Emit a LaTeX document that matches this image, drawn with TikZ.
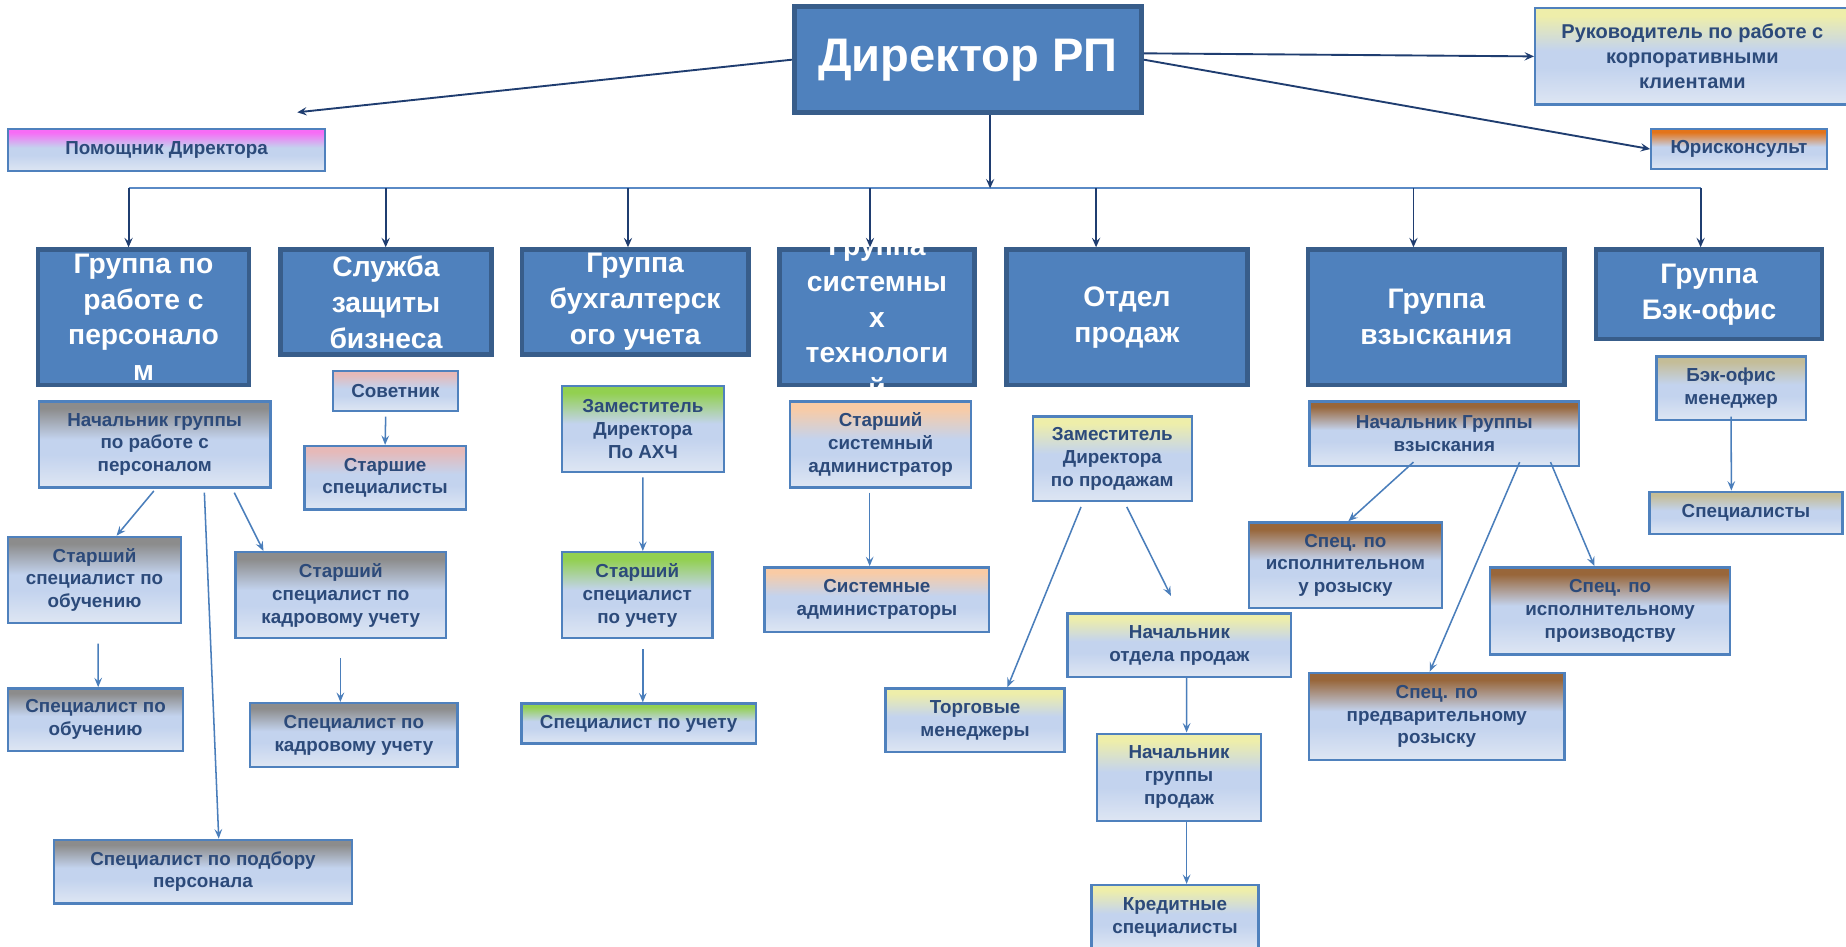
\documentclass[tikz,border=0pt]{standalone}
\usepackage{fontspec}
\setmainfont{Liberation Sans}
\usetikzlibrary{arrows.meta}

\definecolor{grpfill}{HTML}{4F81BD}
\definecolor{grpedge}{HTML}{385D8A}
\definecolor{boxedge}{HTML}{4F81BD}
\definecolor{boxmid}{HTML}{C3D3EE}
\definecolor{boxlo}{HTML}{DEE6F3}
\definecolor{boxtext}{HTML}{2C4A7A}
\definecolor{topline}{HTML}{1F3D70}
\definecolor{lowline}{HTML}{4A7EBB}
\definecolor{busline}{HTML}{5A8AC6}
\definecolor{hdr}{HTML}{8C8C8C}
\definecolor{magentahdr}{HTML}{F76CF6}
\definecolor{orangehdr}{HTML}{E3741A}
\definecolor{yellowhdr}{HTML}{EEEEAA}
\definecolor{grayhdr}{HTML}{8C8C8C}
\definecolor{pinkhdr}{HTML}{E6B9B8}
\definecolor{greenhdr}{HTML}{92D050}
\definecolor{peachhdr}{HTML}{F9CBA5}
\definecolor{brownhdr}{HTML}{98663A}
\definecolor{khakihdr}{HTML}{C4BD97}

\pgfdeclareverticalshading[hdr]{boxshade}{100bp}{color(0bp)=(boxlo); color(25bp)=(boxlo); color(44bp)=(boxmid); color(53bp)=(boxmid); color(71bp)=(hdr); color(100bp)=(hdr)}

\tikzset{
    grp/.style={draw=grpedge, line width=4pt, fill=grpfill, inner sep=0pt},
    grptext/.style={text=white, font=\fontsize{24}{30.5}\selectfont\bfseries, align=center, inner sep=0pt},
    sub/.style={draw=boxedge, line width=2pt, shade, shading=boxshade, /utils/exec={\colorlet{hdr}{#1}},
        inner sep=0pt, text=boxtext, font=\fontsize{16}{19.4}\selectfont\bfseries, align=center},
    topar/.style={draw=topline, line width=1.6pt, -{Stealth[length=8pt, width=7pt, inset=3pt]}},
    lowar/.style={draw=lowline, line width=1.3pt, -{Stealth[length=8pt, width=6.5pt, inset=3pt]}}
}

\begin{document}
\begin{tikzpicture}[x=1pt, y=-1pt]
    \useasboundingbox[fill=white] (0,0) rectangle (1568,804);

    \node[grp, minimum width=295, minimum height=90] (dir) at (822.1,50.7) {};
    \node[grptext, font=\fontsize{40}{46}\selectfont\bfseries] (dirt) at (dir) {Директор РП};

    \node[sub=magentahdr, minimum width=269, minimum height=36] (hlp) at (141.5,127.5) {Помощник Директора};
    \node[sub=yellowhdr, minimum width=267, minimum height=82, font=\fontsize{17}{21.5}\selectfont\bfseries] (rk) at (1437.5,47.9) {Руководитель по работе с\\корпоративными\\клиентами};
    \node[sub=orangehdr, minimum width=149, minimum height=34] (jur) at (1477.1,126.6) {Юрисконсульт};

    \node[grp, minimum width=179, minimum height=115] (g1) at (121.9,269.5) {};
    \node[grp, minimum width=179, minimum height=89] (g2) at (327.9,256.5) {};
    \node[grp, minimum width=192, minimum height=89] (g3) at (539.5,256.5) {};
    \node[grp, minimum width=166, minimum height=115] (g4) at (744.9,269.5) {};
    \node[grp, minimum width=205, minimum height=115] (g5) at (957.2,269.5) {};
    \node[grp, minimum width=218, minimum height=115] (g6) at (1220,269.5) {};
    \node[grp, minimum width=192, minimum height=76] (g7) at (1451.7,250) {};

    \node[grptext] (g1t) at (g1) {Группа по\\работе с\\персонало\\м};
    \node[grptext] (g2t) at (g2) {Служба\\защиты\\бизнеса};
    \node[grptext] (g3t) at (g3) {Группа\\бухгалтерск\\ого учета};
    \node[grptext] (g4t) at (g4) {Группа\\системны\\х\\технологи\\й};
    \node[grptext] (g5t) at (g5) {Отдел\\продаж};
    \node[grptext] (g6t) at (g6) {Группа\\взыскания};
    \node[grptext] (g7t) at (g7) {Группа\\Бэк-офис};

    \node[sub=grayhdr, minimum width=197, minimum height=73] (p0) at (131.4,377.5) {Начальник группы\\по работе с\\персоналом};
    \node[sub=grayhdr, minimum width=147, minimum height=73] (p1) at (80.3,492.5) {Старший\\специалист по\\обучению};
    \node[sub=grayhdr, minimum width=179, minimum height=73] (p2) at (289.5,505.5) {Старший\\специалист по\\кадровому учету};
    \node[sub=grayhdr, minimum width=149, minimum height=53] (p3) at (81.2,611.2) {Специалист по\\обучению};
    \node[sub=grayhdr, minimum width=176, minimum height=54] (p4) at (300.6,624.3) {Специалист по\\кадровому учету};
    \node[sub=grayhdr, minimum width=253, minimum height=54] (p5) at (172.4,740.3) {Специалист по подбору\\персонала};

    \node[sub=pinkhdr, minimum width=106, minimum height=34] (s1) at (335.9,332) {Советник};
    \node[sub=pinkhdr, minimum width=137, minimum height=54] (s2) at (327.1,405.9) {Старшие\\специалисты};

    \node[sub=greenhdr, minimum width=138, minimum height=73] (b1) at (546.1,364.2) {Заместитель\\Директора\\По АХЧ};
    \node[sub=greenhdr, minimum width=128, minimum height=73] (b2) at (541.3,505.5) {Старший\\специалист\\по учету};
    \node[sub=greenhdr, minimum width=199, minimum height=34] (b3) at (542.5,614.6) {Специалист по учету};

    \node[sub=peachhdr, minimum width=154, minimum height=73] (t1) at (748,377.5) {Старший\\системный\\администратор};
    \node[sub=peachhdr, minimum width=191, minimum height=55] (t2) at (744.8,509.4) {Системные\\администраторы};

    \node[sub=yellowhdr, minimum width=135, minimum height=72] (d1) at (944.8,389.8) {Заместитель\\Директора\\по продажам};
    \node[sub=yellowhdr, minimum width=190, minimum height=54] (d2) at (1001.8,548) {Начальник\\отдела продаж};
    \node[sub=yellowhdr, minimum width=152, minimum height=54] (d3) at (828.2,611.8) {Торговые\\менеджеры};
    \node[sub=yellowhdr, minimum width=139, minimum height=74] (d4) at (1001.5,660.2) {Начальник\\группы\\продаж};
    \node[sub=yellowhdr, minimum width=142, minimum height=55] (d5) at (998,779.3) {Кредитные\\специалисты};

    \node[sub=brownhdr, minimum width=229, minimum height=55] (c0) at (1226.8,368.5) {Начальник Группы\\взыскания};
    \node[sub=brownhdr, minimum width=164, minimum height=73] (c1) at (1142.8,480.2) {Спец. по\\исполнительном\\у розыску};
    \node[sub=brownhdr, minimum width=204, minimum height=74] (c2) at (1367.6,518.9) {Спец. по\\исполнительному\\производству};
    \node[sub=brownhdr, minimum width=217, minimum height=74] (c3) at (1220.4,608.5) {Спец. по\\предварительному\\розыску};

    \node[sub=khakihdr, minimum width=127, minimum height=54] (k1) at (1470.4,329.8) {Бэк-офис\\менеджер};
    \node[sub=khakihdr, minimum width=164, minimum height=36] (k2) at (1483,435.7) {Специалисты};

    \coordinate (hlpend) at (252.5,95.4);
    \coordinate (hub) at (841,160);
    \coordinate (busl) at (109.2,160);
    \coordinate (busr) at (1444.5,160);
    \coordinate (d2top) at (994.6,506.2);

    \draw[topar] (dir.west) -- (hlpend);
    \draw[topar] ([yshift=5.4pt]dir.east) -- (rk.west);
    \draw[topar] (dir.east) -- (jur.west);
    \draw[busline, line width=1.8pt] (busl) -- (busr);
    \draw[topar] (dir.south -| hub) -- (hub);
    \foreach \g/\x in {g1/109.2, g2/327.6, g3/533.4, g4/739, g5/931, g6/1200.6, g7/1444.5} {
        \coordinate (b\g) at (\x,160);
        \draw[topar] (b\g) -- (b\g |- \g.north);
    }

    \draw[lowar] ([xshift=-0.7pt, yshift=-2pt]p0.south) -- ([xshift=18.7pt]p1.north);
    \draw[lowar] ([xshift=42.2pt, yshift=-3.5pt]p0.south) -- ([xshift=13.4pt]p5.north);
    \draw[lowar] ([xshift=67.6pt, yshift=-3.5pt]p0.south) -- ([xshift=-65.7pt]p2.north);
    \draw[lowar] ([xshift=3.1pt, yshift=-16.7pt]p1.south) -- ([xshift=2.2pt]p3.north);
    \draw[lowar] ([xshift=-0.4pt, yshift=-16.2pt]p2.south) -- ([xshift=-11.5pt]p4.north);
    \draw[lowar] ([xshift=-8.3pt, yshift=-3.8pt]s1.south) -- (s2.north);
    \draw[lowar] ([yshift=-3.7pt]b1.south) -- ([xshift=4.7pt]b2.north);
    \draw[lowar] ([xshift=4.7pt, yshift=-8.3pt]b2.south) -- ([xshift=3.5pt]b3.north);
    \draw[lowar] ([xshift=-9.3pt, yshift=-3.5pt]t1.south) -- ([xshift=-6.1pt]t2.north);
    \draw[lowar] ([xshift=-26.6pt, yshift=-3.8pt]d1.south) -- ([xshift=27.5pt]d3.north);
    \draw[lowar] ([xshift=12.3pt, yshift=-3.8pt]d1.south) -- (d2top);
    \draw[lowar] ([xshift=6.1pt]d2.south) -- ([xshift=6.4pt]d4.north);
    \draw[lowar] ([xshift=6.4pt]d4.south) -- ([xshift=9.9pt]d5.north);
    \draw[lowar] ([xshift=-26.2pt, yshift=4.5pt]c0.south) -- ([xshift=2.5pt]c1.north);
    \draw[lowar] ([xshift=64pt, yshift=4.5pt]c0.south) -- ([xshift=-6pt]c3.north);
    \draw[lowar] ([xshift=90.2pt, yshift=4.5pt]c0.south) -- ([xshift=-13.3pt]c2.north);
    \draw[lowar] ([yshift=4pt]k1.south) -- ([xshift=-12.4pt]k2.north);
\end{tikzpicture}
\end{document}
